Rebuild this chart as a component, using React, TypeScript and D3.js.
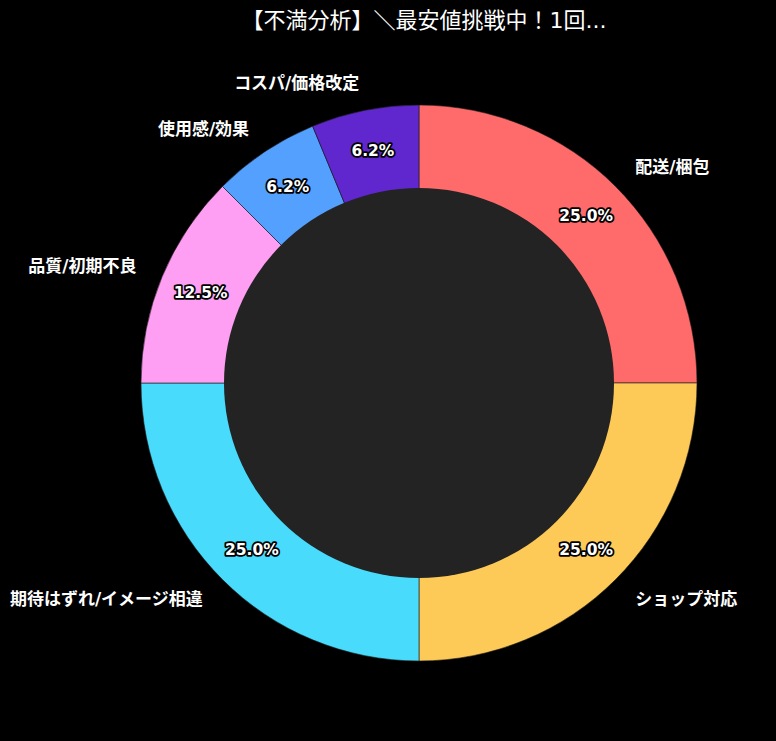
import { useEffect, useRef } from 'react';
import * as d3 from 'd3';

const title = '【不満分析】＼最安値挑戦中！1回...';
const categories = ['配送/梱包', 'ショップ対応', '期待はずれ/イメージ相違', '品質/初期不良', '使用感/効果', 'コスパ/価格改定'];
const counts = [4, 4, 4, 2, 1, 1];
const colors = ['#FF6B6B', '#FECA57', '#48DBFB', '#FF9FF3', '#54A0FF', '#5F27CD'];

// python-style rounding (half to even) like matplotlib's '%1.1f%%'
function fmtPct(v: number) {
    const x = v * 10;
    const f = Math.floor(x);
    const diff = x - f;
    let n = diff > 0.5 ? f + 1 : diff < 0.5 ? f : (f % 2 === 0 ? f : f + 1);
    return (n / 10).toFixed(1) + '%';
}

export default function App() {
    const ref = useRef<SVGSVGElement>(null);

    useEffect(() => {
        if (!ref.current) return;
        const svg = d3.select(ref.current);
        svg.selectAll('*').remove();

        const width = 776;
        const height = 741;
        const cx = 419;
        const cy = 383;
        const radius = 278;
        const holeR = 195;
        const font = '"DejaVu Sans", "Noto Sans CJK JP", sans-serif';

        svg.attr('width', width).attr('height', height);

        svg.append('rect')
            .attr('width', width)
            .attr('height', height)
            .attr('fill', '#000000');

        svg.append('text')
            .attr('x', cx + 5)
            .attr('y', 20)
            .attr('text-anchor', 'middle')
            .attr('dominant-baseline', 'central')
            .attr('fill', '#ffffff')
            .attr('font-size', '22px')
            .attr('font-family', font)
            .text(title);

        const total = d3.sum(counts);
        const pie = d3.pie<number>().sort(null).startAngle(0).endAngle(2 * Math.PI);
        const arcs = pie(counts);

        const arc = d3.arc<d3.PieArcDatum<number>>()
            .innerRadius(0)
            .outerRadius(radius);

        const g = svg.append('g').attr('transform', `translate(${cx}, ${cy})`);

        g.selectAll('path.slice')
            .data(arcs)
            .enter()
            .append('path')
            .attr('class', 'slice')
            .attr('d', arc)
            .attr('fill', (_, i) => colors[i])
            .attr('stroke', '#1a1a1a')
            .attr('stroke-width', 0.6);

        // donut hole
        g.append('circle')
            .attr('r', holeR)
            .attr('fill', '#232323');

        const mid = (d: d3.PieArcDatum<number>) => (d.startAngle + d.endAngle) / 2;

        // category labels
        g.selectAll('text.label')
            .data(arcs)
            .enter()
            .append('text')
            .attr('class', 'label')
            .attr('x', d => 1.1 * radius * Math.sin(mid(d)))
            .attr('y', d => -1.1 * radius * Math.cos(mid(d)))
            .attr('text-anchor', d => (Math.sin(mid(d)) >= 0 ? 'start' : 'end'))
            .attr('dominant-baseline', 'central')
            .attr('fill', '#ffffff')
            .attr('font-size', '17px')
            .attr('font-weight', 'bold')
            .attr('font-family', font)
            .text((_, i) => categories[i]);

        // percent labels
        g.selectAll('text.pct')
            .data(arcs)
            .enter()
            .append('text')
            .attr('class', 'pct')
            .attr('x', d => 0.85 * radius * Math.sin(mid(d)))
            .attr('y', d => -0.85 * radius * Math.cos(mid(d)))
            .attr('text-anchor', 'middle')
            .attr('dominant-baseline', 'central')
            .attr('fill', '#ffffff')
            .attr('stroke', '#000000')
            .attr('stroke-width', 3.5)
            .attr('stroke-linejoin', 'round')
            .attr('paint-order', 'stroke')
            .attr('font-size', '15.5px')
            .attr('font-weight', 'bold')
            .attr('font-family', font)
            .text(d => fmtPct((d.data / total) * 100));
    }, []);

    return <svg ref={ref} style={{ position: 'absolute', left: 0, top: 0, display: 'block' }} />;
}
